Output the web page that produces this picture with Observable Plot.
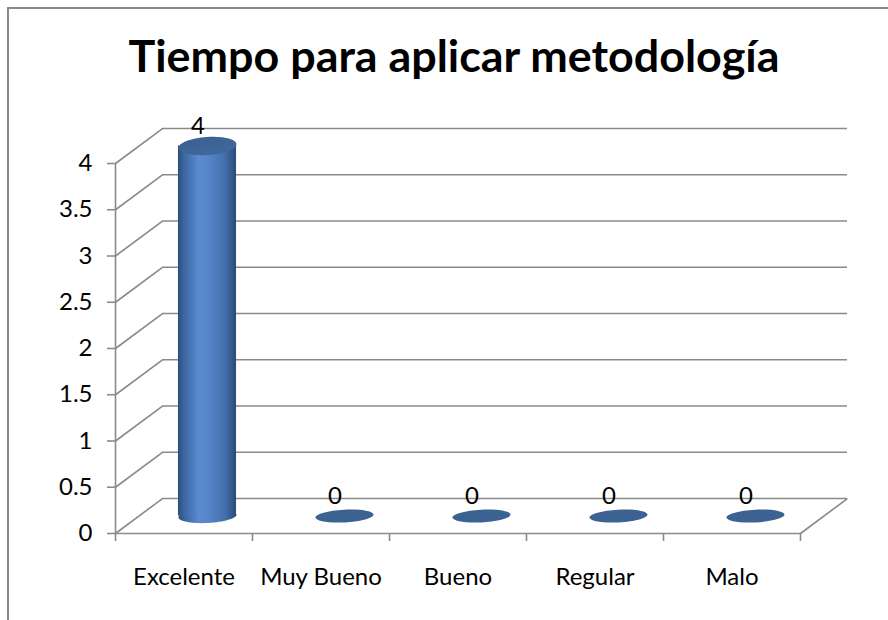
<!DOCTYPE html>
<html>
<head>
<meta charset="utf-8">
<script src="https://cdn.jsdelivr.net/npm/d3@7"></script>
<script src="https://cdn.jsdelivr.net/npm/@observablehq/plot@0.6"></script>
<style>
  html, body { margin: 0; padding: 0; background: #fff; overflow: hidden; }
  #wrap { position: relative; width: 888px; height: 620px; overflow: hidden; background: #fff; }
  #frame { position: absolute; left: 7px; top: 7px; width: 1000px; height: 1000px; border: 2px solid #8a8a8a; box-sizing: border-box; }
  #title { position: absolute; left: 0; top: 35px; width: 908px; text-align: center; font-family: Lato, sans-serif; font-weight: bold; font-size: 42px; line-height: 1; color: #000; white-space: nowrap; }
  #chart { position: absolute; left: 0; top: 100px; }
</style>
</head>
<body>
<div id="wrap">
  <div id="frame"></div>
  <div id="title">Tiempo para aplicar metodología</div>
  <div id="chart"></div>
</div>
<script>
// ---- data ----
const categories = ["Excelente", "Muy Bueno", "Bueno", "Regular", "Malo"];
const values = [4, 0, 0, 0, 0];
const yTicks = [0, 0.5, 1, 1.5, 2, 2.5, 3, 3.5, 4];
const yTickLabels = ["0", "0.5", "1", "1.5", "2", "2.5", "3", "3.5", "4"];
const title = "Tiempo para aplicar metodología";

// ---- geometry / style constants ----
const W = 888, H = 520;
const mL = 115, mR = 88, mT = 63, mB = 87;
const depthX = 0.343;   // back-wall offset in category units
const depthY = 0.378;   // back-wall offset in value units
const cylR = 0.212;     // cylinder radius in category units
const unitPx = (W - mL - mR) / categories.length;
const gray = "#8a8a8a";
const font = "Lato, 'Open Sans', sans-serif";
const fs = 24;

// fit the title width
(function fitTitle() {
  const el = document.getElementById("title");
  el.textContent = title;
  const c = document.createElement("canvas").getContext("2d");
  c.font = "bold 100px Lato";
  const w = c.measureText(title).width;
  const size = Math.max(30, Math.min(50, 100 * 652 / w));
  el.style.fontSize = size + "px";
  el.style.top = (73 - 0.887 * size) + "px";
})();

function ellipseSymbol(k, angleDeg) {
  const a = angleDeg * Math.PI / 180, c = Math.cos(a), s = Math.sin(a);
  return {
    draw(ctx, size) {
      const rx = Math.sqrt(size / Math.PI), ry = rx * k, K = 0.5522847;
      const P = (x, y) => [x * c - y * s, x * s + y * c];
      ctx.moveTo(...P(rx, 0));
      ctx.bezierCurveTo(...P(rx, K * ry), ...P(K * rx, ry), ...P(0, ry));
      ctx.bezierCurveTo(...P(-K * rx, ry), ...P(-rx, K * ry), ...P(-rx, 0));
      ctx.bezierCurveTo(...P(-rx, -K * ry), ...P(-K * rx, -ry), ...P(0, -ry));
      ctx.bezierCurveTo(...P(K * rx, -ry), ...P(rx, -K * ry), ...P(rx, 0));
      ctx.closePath();
    }
  };
}

const data = categories.map((c, i) => ({ cat: c, i, v: values[i] }));
const cx = d => d.i + 0.5 + depthX / 2;
const rPx = cylR * unitPx;

const plot = Plot.plot({
  width: W, height: H,
  marginLeft: mL, marginRight: mR, marginTop: mT, marginBottom: mB,
  x: { domain: [0, categories.length] },
  y: { domain: [0, 4] },
  style: { fontFamily: font, fontSize: fs + "px", color: "#000", background: "transparent", overflow: "visible" },
  marks: [
    // back wall gridlines
    Plot.ruleY(yTicks, { y: d => d + depthY, x1: depthX, x2: categories.length + depthX, stroke: gray, strokeWidth: 1.6 }),
    // diagonals from front axis to back wall
    Plot.link(yTicks, { x1: 0, y1: d => d, x2: depthX, y2: d => d + depthY, stroke: gray, strokeWidth: 1.6 }),
    // floor front edge and right edge
    Plot.ruleY([0], { x1: 0, x2: categories.length, stroke: gray, strokeWidth: 1.6 }),
    Plot.link([0], { x1: categories.length, y1: 0, x2: categories.length + depthX, y2: depthY, stroke: gray, strokeWidth: 1.6 }),
    // front vertical axis line
    Plot.ruleX([0], { y1: 0, y2: 4, stroke: gray, strokeWidth: 1.6 }),
    Plot.axisY({ ticks: yTicks, tickSize: 8, tickPadding: 15, tickFormat: d => yTickLabels[yTicks.indexOf(d)], stroke: gray, strokeWidth: 1.6, fill: "#000", fontSize: fs }),
    Plot.axisX({ ticks: d3.range(0, categories.length + 1), tickSize: 8, tickFormat: () => "", stroke: gray, strokeWidth: 1.6 }),
    // cylinders: bottom ellipse, body, top ellipse
    Plot.dot(data.filter(d => d.v > 0), { x: cx, y: depthY / 2, r: rPx, symbol: ellipseSymbol(0.24, -3), fill: "url(#cylGrad)", stroke: "none" }),
    Plot.rect(data.filter(d => d.v > 0), { x1: d => cx(d) - cylR, x2: d => cx(d) + cylR, y1: depthY / 2, y2: d => d.v + depthY / 2, fill: "url(#cylGrad)" }),
    Plot.dot(data.filter(d => d.v > 0), { x: cx, y: d => d.v + depthY / 2, r: rPx, symbol: ellipseSymbol(0.31, -4), fill: "url(#topGrad)", stroke: "none" }),
    Plot.dot(data.filter(d => d.v === 0), { x: cx, y: d => d.v + depthY / 2, r: rPx, symbol: ellipseSymbol(0.22, -3), fill: "#3b6291", stroke: "none" }),
    // value labels
    Plot.text(data, { x: d => d.i + 0.5, y: d => d.v + depthY, dx: 14, dy: -2, text: d => String(d.v), fontSize: fs, fill: "#000" }),
    // category labels
    Plot.text(data, { x: d => d.i + 0.5, y: 0, dy: 44, text: d => d.cat, fontSize: fs, fill: "#000" })
  ]
});

// gradients for the cylinder
const ns = "http://www.w3.org/2000/svg";
const defs = document.createElementNS(ns, "defs");
defs.innerHTML = `
  <linearGradient id="cylGrad" x1="0" y1="0" x2="1" y2="0">
    <stop offset="0" stop-color="#2d4d7d"/>
    <stop offset="0.1" stop-color="#3c659e"/>
    <stop offset="0.35" stop-color="#5a8ad0"/>
    <stop offset="0.5" stop-color="#5886ca"/>
    <stop offset="0.8" stop-color="#4470ad"/>
    <stop offset="1" stop-color="#2b4a78"/>
  </linearGradient>
  <linearGradient id="topGrad" x1="0" y1="0" x2="1" y2="1">
    <stop offset="0" stop-color="#3a5f90"/>
    <stop offset="1" stop-color="#416a9c"/>
  </linearGradient>`;
plot.insertBefore(defs, plot.firstChild);
document.getElementById("chart").appendChild(plot);
</script>
</body>
</html>
